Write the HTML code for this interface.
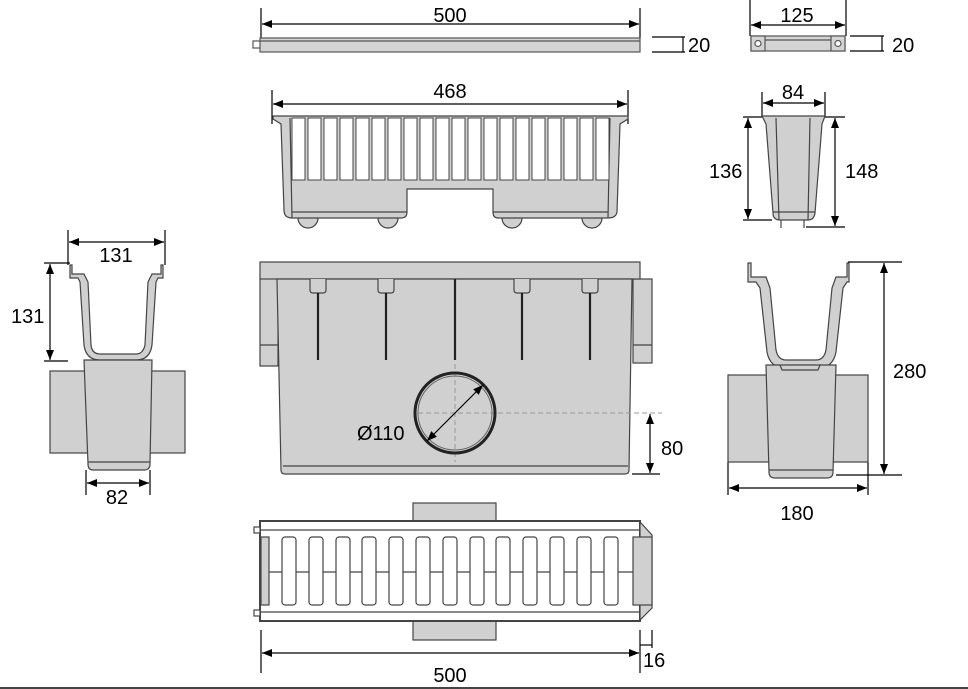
<!DOCTYPE html>
<html><head><meta charset="utf-8"><style>
html,body{margin:0;padding:0;background:#fff;width:968px;height:689px;overflow:hidden}
svg{display:block}
text{font-family:"Liberation Sans",sans-serif;font-size:20px;fill:#000}
</style></head><body>
<svg width="968" height="689" viewBox="0 0 968 689">
<defs>
<marker id="a" viewBox="0 0 10 10" refX="10" refY="5" markerWidth="10" markerHeight="10" markerUnits="userSpaceOnUse" orient="auto-start-reverse"><path d="M0,1 L10,5 L0,9 Z" fill="#000"/></marker>
</defs>
<g stroke="#000" stroke-width="1.2" fill="none">
<!-- top bar dims -->
<line x1="261" y1="8" x2="261" y2="38"/><line x1="640" y1="8" x2="640" y2="38"/>
<line x1="262" y1="24" x2="639" y2="24" marker-start="url(#a)" marker-end="url(#a)"/>
<line x1="652" y1="37" x2="685" y2="37"/><line x1="652" y1="52" x2="685" y2="52"/><line x1="683" y1="37" x2="683" y2="52"/>
<!-- 125 -->
<line x1="750" y1="0" x2="750" y2="36"/><line x1="846" y1="0" x2="846" y2="36"/>
<line x1="751" y1="25" x2="845" y2="25" marker-start="url(#a)" marker-end="url(#a)"/>
<line x1="850" y1="36" x2="884" y2="36"/><line x1="850" y1="51" x2="884" y2="51"/><line x1="882" y1="36" x2="882" y2="51"/>
<!-- 468 -->
<line x1="272" y1="90" x2="272" y2="124"/><line x1="628" y1="90" x2="628" y2="124"/>
<line x1="273" y1="104" x2="627" y2="104" marker-start="url(#a)" marker-end="url(#a)"/>
<!-- 84/136/148 -->
<line x1="762" y1="92" x2="762" y2="116"/><line x1="825" y1="92" x2="825" y2="116"/>
<line x1="763" y1="103" x2="824" y2="103" marker-start="url(#a)" marker-end="url(#a)"/>
<line x1="743" y1="117" x2="766" y2="117"/><line x1="743" y1="220" x2="772" y2="220"/>
<line x1="748" y1="118" x2="748" y2="219" marker-start="url(#a)" marker-end="url(#a)"/>
<line x1="822" y1="117" x2="845" y2="117"/><line x1="806" y1="227" x2="845" y2="227"/>
<line x1="835" y1="118" x2="835" y2="226" marker-start="url(#a)" marker-end="url(#a)"/>
<!-- left view dims -->
<line x1="68" y1="230" x2="68" y2="265"/><line x1="165" y1="230" x2="165" y2="265"/>
<line x1="69" y1="242" x2="164" y2="242" marker-start="url(#a)" marker-end="url(#a)"/>
<line x1="44" y1="263" x2="70" y2="263"/><line x1="44" y1="361" x2="68" y2="361"/>
<line x1="50" y1="264" x2="50" y2="360" marker-start="url(#a)" marker-end="url(#a)"/>
<line x1="86" y1="470" x2="86" y2="495"/><line x1="150" y1="470" x2="150" y2="495"/>
<line x1="87" y1="483" x2="149" y2="483" marker-start="url(#a)" marker-end="url(#a)"/>
<!-- right view dims -->
<line x1="848" y1="262" x2="902" y2="262"/><line x1="836" y1="475" x2="902" y2="475"/>
<line x1="884" y1="263" x2="884" y2="474" marker-start="url(#a)" marker-end="url(#a)"/>
<line x1="728" y1="462" x2="728" y2="495"/><line x1="868" y1="462" x2="868" y2="495"/>
<line x1="729" y1="488" x2="867" y2="488" marker-start="url(#a)" marker-end="url(#a)"/>
<!-- bottom plan dims -->
<line x1="261" y1="630" x2="261" y2="673"/><line x1="640" y1="630" x2="640" y2="673"/><line x1="652" y1="630" x2="652" y2="648"/>
<line x1="262" y1="653" x2="639" y2="653" marker-start="url(#a)" marker-end="url(#a)"/>
<line x1="640" y1="645" x2="652" y2="645"/>
</g>

<!-- top bar -->
<g stroke="#555" fill="#d4d4d4" stroke-width="1.2">
<rect x="253" y="41" width="8" height="7" fill="#fff"/>
<rect x="260" y="38" width="380" height="14"/>
<line x1="260" y1="41" x2="640" y2="41"/>
<rect x="751" y="36" width="94" height="15"/>
<rect x="751" y="36" width="14" height="15"/><rect x="831" y="36" width="14" height="15"/>
<circle cx="758" cy="43.5" r="3" fill="#fff"/><circle cx="838" cy="43.5" r="3" fill="#fff"/>
<line x1="765" y1="40" x2="831" y2="40"/>
</g>

<!-- basket -->
<g stroke="#444" stroke-width="1.2" fill="#d0d0d0">
<circle cx="308" cy="218" r="10"/><circle cx="388" cy="218" r="10"/><circle cx="512" cy="218" r="10"/><circle cx="592" cy="218" r="10"/>
<path d="M273,116 L628,116 L628,119 L620,124 L617,212 Q616,218 608,218 L498,218 Q493,218 493,212 L493,189 L407,189 L407,212 Q407,218 401,218 L292,218 Q284,218 284,210 L281,124 L273,119 Z"/>
<line x1="290" y1="118" x2="292" y2="218"/><line x1="610" y1="118" x2="608" y2="218"/>
<line x1="292" y1="212" x2="407" y2="212"/><line x1="493" y1="212" x2="608" y2="212"/>
</g>
<g fill="#fff" stroke="#444" stroke-width="1">
<rect x="292" y="118" width="13" height="62"/><rect x="308" y="118" width="13" height="62"/><rect x="324" y="118" width="13" height="62"/><rect x="340" y="118" width="13" height="62"/><rect x="356" y="118" width="13" height="62"/><rect x="372" y="118" width="13" height="62"/><rect x="388" y="118" width="13" height="62"/><rect x="404" y="118" width="13" height="62"/><rect x="420" y="118" width="13" height="62"/><rect x="436" y="118" width="13" height="62"/><rect x="452" y="118" width="13" height="62"/><rect x="468" y="118" width="13" height="62"/><rect x="484" y="118" width="13" height="62"/><rect x="500" y="118" width="13" height="62"/><rect x="516" y="118" width="13" height="62"/><rect x="532" y="118" width="13" height="62"/><rect x="548" y="118" width="13" height="62"/><rect x="564" y="118" width="13" height="62"/><rect x="580" y="118" width="13" height="62"/><rect x="596" y="118" width="13" height="62"/>
</g>

<!-- small box -->
<g stroke="#444" stroke-width="1.2" fill="#d0d0d0">
<line x1="781" y1="218" x2="781" y2="228"/><line x1="804" y1="218" x2="804" y2="228"/>
<path d="M762,116 L825,116 L822,124 L815,213 Q814,220 808,220 L780,220 Q773,220 773,213 L766,124 Z"/>
<line x1="776" y1="118" x2="779" y2="220"/><line x1="810" y1="118" x2="808" y2="220"/><line x1="773" y1="212" x2="815" y2="212"/>
</g>

<!-- main body -->
<g stroke="#444" stroke-width="1.2" fill="#d0d0d0">
<rect x="260" y="278" width="18" height="88"/>
<rect x="633" y="279" width="19" height="84"/>
<line x1="633" y1="345" x2="652" y2="345"/><line x1="260" y1="345" x2="278" y2="345"/>
<rect x="260" y="262" width="380" height="17"/>
<path d="M277,279 L632,279 L629,470 Q629,474 625,474 L285,474 Q281,474 281,470 Z"/>
<line x1="283" y1="466" x2="628" y2="466"/>
<path d="M310,279 v11 q0,3 3,3 h10 q3,0 3,-3 v-11 M378,279 v11 q0,3 3,3 h10 q3,0 3,-3 v-11 M514,279 v11 q0,3 3,3 h10 q3,0 3,-3 v-11 M582,279 v11 q0,3 3,3 h10 q3,0 3,-3 v-11" fill="#d0d0d0"/>
</g>
<g stroke="#222" stroke-width="2.2">
<line x1="318" y1="293" x2="318" y2="360"/><line x1="386" y1="293" x2="386" y2="360"/><line x1="455" y1="279" x2="455" y2="360"/><line x1="522" y1="293" x2="522" y2="360"/><line x1="590" y1="293" x2="590" y2="360"/>
</g>
<g stroke="#999" stroke-width="1" stroke-dasharray="5,3">
<line x1="455" y1="364" x2="455" y2="462"/><line x1="418" y1="413" x2="662" y2="413"/>
</g>
<circle cx="455" cy="413" r="40" fill="none" stroke="#222" stroke-width="3"/>
<circle cx="455" cy="413" r="37" fill="none" stroke="#666" stroke-width="1"/>
<line x1="427" y1="441" x2="483" y2="385" stroke="#000" stroke-width="1.2" marker-start="url(#a)" marker-end="url(#a)"/>
<line x1="632" y1="474" x2="660" y2="474" stroke="#000" stroke-width="1.2"/>
<line x1="650" y1="414" x2="650" y2="473" stroke="#000" stroke-width="1.2" marker-start="url(#a)" marker-end="url(#a)"/>

<!-- bottom plan -->
<g stroke="#444" stroke-width="1.2" fill="#d0d0d0">
<rect x="413" y="503" width="83" height="19"/>
<rect x="413" y="620" width="83" height="20"/>
<rect x="260" y="521" width="380" height="100" fill="#fff" stroke-width="2"/>
<line x1="260" y1="530" x2="640" y2="530"/><line x1="260" y1="612" x2="640" y2="612"/>
<line x1="262" y1="572" x2="634" y2="572"/>
<rect x="261" y="537" width="8" height="68"/>
<path d="M640,522 L652,535 L652,608 L640,620 Z"/>
<rect x="633" y="537" width="19" height="68"/>
<rect x="254" y="527" width="6" height="6" fill="#fff"/><rect x="254" y="610" width="6" height="6" fill="#fff"/>
</g>
<g fill="#fff" stroke="#444" stroke-width="1.2">
<rect x="282" y="537" width="14" height="68" rx="3"/><rect x="309" y="537" width="14" height="68" rx="3"/><rect x="336" y="537" width="14" height="68" rx="3"/><rect x="362" y="537" width="14" height="68" rx="3"/><rect x="389" y="537" width="14" height="68" rx="3"/><rect x="416" y="537" width="14" height="68" rx="3"/><rect x="443" y="537" width="14" height="68" rx="3"/><rect x="470" y="537" width="14" height="68" rx="3"/><rect x="496" y="537" width="14" height="68" rx="3"/><rect x="523" y="537" width="14" height="68" rx="3"/><rect x="550" y="537" width="14" height="68" rx="3"/><rect x="577" y="537" width="14" height="68" rx="3"/><rect x="604" y="537" width="14" height="68" rx="3"/>
</g>

<!-- left view -->
<g stroke="#444" stroke-width="1.2" fill="#d0d0d0">
<rect x="50" y="371" width="135" height="82"/>
<path d="M70,265 L70,278 L78,278 L80,282 L84,345 Q86,360 100,360 L136,360 Q150,360 152,345 L156,282 L158,278 L163,278 L163,265 L161,265 L161,274 L152,274 L148,282 L145,345 Q143,354 136,354 L100,354 Q92,354 91,345 L88,282 L84,274 L72,274 L72,265 Z"/>
<path d="M84,360 L152,360 L150,464 Q150,470 144,470 L93,470 Q88,470 88,464 Z"/>
<line x1="88" y1="462" x2="150" y2="462"/>
</g>

<!-- right view -->
<g stroke="#444" stroke-width="1.2" fill="#d0d0d0">
<rect x="728" y="375" width="140" height="87"/>
<path d="M748,263 L748,282 L756,282 L760,288 L767,352 Q770,368 785,368 L818,368 Q833,368 836,352 L843,288 L847,282 L849,282 L849,263 L847,263 L847,277 L836,277 L832,288 L826,350 Q824,360 816,360 L786,360 Q778,360 776,350 L770,288 L766,277 L751,277 L751,263 Z"/>
<path d="M766,365 L836,365 L833,472 Q833,478 827,478 L775,478 Q769,478 769,472 Z"/>
<line x1="769" y1="470" x2="833" y2="470"/>
<path d="M780,365 L782,370 L818,370 L820,365" fill="none"/>
</g>

<!-- bottom rule -->
<line x1="0" y1="688" x2="968" y2="688" stroke="#444" stroke-width="2"/>

<!-- labels -->
<text x="450" y="22" text-anchor="middle">500</text>
<text x="688" y="52">20</text>
<text x="797" y="22" text-anchor="middle">125</text>
<text x="892" y="52">20</text>
<text x="450" y="98" text-anchor="middle">468</text>
<text x="793" y="99" text-anchor="middle">84</text>
<text x="709" y="178">136</text>
<text x="845" y="178">148</text>
<text x="116" y="262" text-anchor="middle">131</text>
<text x="11" y="323">131</text>
<text x="117" y="504" text-anchor="middle">82</text>
<text x="357" y="440">Ø110</text>
<text x="661" y="455">80</text>
<text x="893" y="378">280</text>
<text x="797" y="520" text-anchor="middle">180</text>
<text x="450" y="682" text-anchor="middle">500</text>
<text x="643" y="667">16</text>
</svg>
</body></html>
